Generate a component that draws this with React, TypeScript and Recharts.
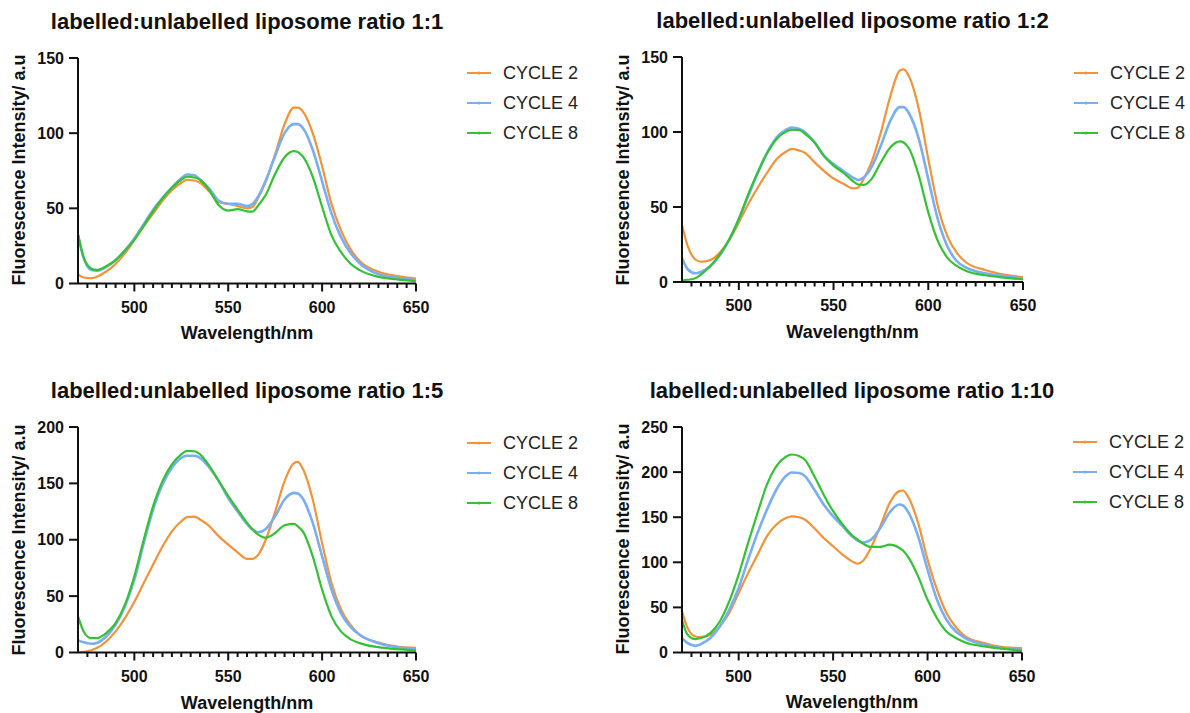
import React from "react";
import { LineChart, Line, XAxis, YAxis } from "recharts";

// ==================== DATA ====================

const WAVELENGTHS = [
  470, 473, 477, 480, 485, 490, 495, 500, 505, 510, 515, 520, 525, 528, 532,
  535, 540, 545, 550, 555, 560, 563, 566, 570, 575, 580, 585, 587, 590, 595,
  600, 605, 610, 615, 620, 630, 640, 650,
];

const SERIES_NAMES = ["CYCLE 2", "CYCLE 4", "CYCLE 8"];
const SERIES_COLORS = ["#F39237", "#79AEF2", "#33C233"];

// ratio 1:1
const R1_C2 = [6, 4, 3.5, 4.5, 8, 13, 20, 29, 38, 46.5, 55, 62, 67, 69, 68.5, 67, 61, 54, 53, 51.5, 50, 51, 57, 68, 86, 106, 117, 117, 114, 100, 78, 53, 35.5, 23, 15, 7.8, 5, 3.3];
const R1_C4 = [32, 17, 9, 8.5, 11, 15.5, 22, 30, 39.5, 49, 57, 64, 70, 72.5, 72, 69, 63, 55, 53, 53, 51.5, 53, 58, 68.5, 85, 100, 106, 106, 103, 89, 68, 46.5, 31, 20.5, 13.5, 6.2, 3.8, 2.2];
const R1_C8 = [33, 17.5, 10, 9, 11.5, 15.5, 22, 29, 38.5, 48, 56.5, 63.5, 69, 71, 70.5, 69, 62, 52, 48.5, 49.5, 48, 47.8, 52, 59, 73, 84, 88, 87.5, 84, 71, 51, 32, 21, 13.3, 8.9, 4.4, 2.7, 1.5];

// ratio 1:2
const R2_C2 = [38, 24, 15, 13.5, 14.7, 19.6, 28, 39.7, 52, 63, 73, 82, 87, 88.7, 87.6, 86, 79.8, 74, 69, 65.7, 62.4, 63, 69, 79.8, 99.8, 124, 141, 141.7, 136.6, 115.4, 82, 50.8, 30.8, 19.6, 13, 8, 5, 3.3];
const R2_C4 = [16, 8.5, 5.8, 6.7, 10.7, 17.8, 28.5, 42, 57.5, 73, 86.5, 96.5, 101.6, 103, 102, 99.8, 93, 84, 78.7, 74.2, 69.8, 68, 69.8, 76.4, 91, 107.6, 116.6, 116.6, 112, 95.4, 68.6, 42, 24, 14, 9.6, 5.8, 4, 2.2];
const R2_C8 = [1, 1.5, 2.5, 5, 10.7, 18.5, 28.5, 42, 58.6, 73, 86, 95.4, 100.3, 101.5, 101.3, 98.7, 93, 84, 77.6, 73, 67.5, 65, 64.7, 68.6, 79.8, 89.8, 93.8, 93, 88.7, 70.9, 46.4, 27.4, 16.3, 10.7, 7.4, 4.5, 2.9, 1.8];

// ratio 1:5
const R5_C2 = [0, 0.5, 2, 3.9, 9.8, 18.7, 30.5, 45, 61.6, 78, 94, 107.5, 116.4, 120, 120.5, 118, 112, 103, 95.7, 88.9, 83, 83, 86.8, 100, 125, 152, 168, 169, 162, 135.7, 97, 61.6, 38.5, 24.6, 15.7, 8.9, 5.3, 4.1];
const R5_C4 = [10.7, 9, 7.8, 8.5, 14.2, 24.6, 41, 64.6, 97, 126.8, 149, 163.9, 172.7, 174.5, 174.5, 172.7, 163.9, 152, 137, 125, 114, 109, 106.7, 109.6, 121, 135.7, 141.6, 141, 135.7, 115, 85.3, 55.7, 35, 23, 15.7, 8.3, 4.7, 3];
const R5_C8 = [32, 18.7, 12.7, 12.7, 17.2, 26, 42.4, 67.6, 100, 129.8, 152, 166.8, 175.7, 178.8, 178.5, 175.7, 165.3, 152, 138.7, 126.8, 115, 109, 104.6, 101.8, 106, 112.9, 114, 112, 106.7, 85.3, 55.7, 32, 18.7, 11.9, 8.3, 4.7, 3, 1.8];

// ratio 1:10
const R10_C2 = [45.6, 27, 17.8, 17, 19.6, 28.9, 43.7, 66, 88, 108.5, 129, 141.9, 149, 151, 150, 147.4, 138, 127, 117.8, 108.5, 101, 98.5, 102, 116, 140, 166, 178.9, 179.6, 171.5, 143.7, 103, 69.6, 43.7, 28, 17.8, 10.4, 5.9, 4.8];
const R10_C4 = [16, 10.4, 7.4, 9.3, 16, 28.9, 47.4, 71.5, 103, 132.6, 158.5, 180.7, 195.6, 199.5, 199, 195.6, 180.7, 164, 151, 140, 128.9, 124, 122, 125, 138, 155.5, 164, 163, 154.8, 128.9, 91.8, 58.5, 36.3, 23.3, 16, 8.5, 4.8, 3];
const R10_C8 = [36, 19.6, 14.8, 16, 21.5, 34.4, 56.7, 86.3, 121.5, 154.8, 186.3, 206.7, 217, 219.5, 217.8, 214, 195.6, 175, 156.7, 141.9, 130, 125, 120.5, 117, 117, 119.5, 116, 113, 104.8, 84.4, 58.5, 38, 23.3, 16, 11, 6.7, 4, 2.2];

const X_MAJOR = [500, 550, 600, 650];
const X_TICKS = [
  475, 480, 485, 490, 495, 500, 505, 510, 515, 520, 525, 530, 535, 540, 545,
  550, 555, 560, 565, 570, 575, 580, 585, 590, 595, 600, 605, 610, 615, 620,
  625, 630, 635, 640, 645, 650,
];
const Y_TICKS_150 = [0, 50, 100, 150];
const Y_TICKS_200 = [0, 50, 100, 150, 200];
const Y_TICKS_250 = [0, 50, 100, 150, 200, 250];

const FONT = '"Liberation Sans", Arial, Helvetica, sans-serif';
const INK = "#111";

// ==================== X TICK ====================

const renderXTick = (props: any) => {
  const { x, y, payload } = props;
  const major = X_MAJOR.includes(payload.value);
  return (
    <g>
      <line x1={x} x2={x} y1={y} y2={y + (major ? 8 : 4.5)} stroke={INK} strokeWidth={2} />
      {major && (
        <text
          x={x}
          y={y + 29}
          textAnchor="middle"
          fill={INK}
          fontSize={16}
          fontWeight={700}
          fontFamily={FONT}
        >
          {payload.value}
        </text>
      )}
    </g>
  );
};

// ==================== PANEL ====================

interface PanelProps {
  title: string;
  values: number[][];
  yTicks: number[];
  plotLeft: number;
  plotTop: number;
  plotW: number;
  plotH: number;
}

const Panel = ({ title, values, yTicks, plotLeft, plotTop, plotW, plotH }: PanelProps) => {
  const rows = WAVELENGTHS.map((wl, i) => ({
    wl,
    c2: values[0][i],
    c4: values[1][i],
    c8: values[2][i],
  }));
  const keys = ["c2", "c4", "c8"];
  const ml = 70;
  const mt = 20;
  const mr = 15;
  const xh = 45;
  const cx = plotLeft + plotW / 2;

  return (
    <>
      <div
        style={{
          position: "absolute",
          left: cx - 300,
          width: 600,
          top: plotTop - 50,
          textAlign: "center",
          fontSize: 22,
          fontWeight: 700,
          color: INK,
          lineHeight: "28px",
          whiteSpace: "nowrap",
        }}
      >
        {title}
      </div>

      <div style={{ position: "absolute", left: plotLeft - ml, top: plotTop - mt }}>
        <LineChart
          width={plotW + ml + mr}
          height={plotH + mt + xh}
          data={rows}
          margin={{ top: mt, right: mr, bottom: 0, left: 10 }}
        >
          <XAxis
            dataKey="wl"
            type="number"
            domain={[470, 650]}
            ticks={X_TICKS}
            interval={0}
            tickSize={0}
            tickMargin={0}
            tickLine={false}
            tick={renderXTick}
            axisLine={{ stroke: INK, strokeWidth: 2 }}
            height={xh}
            allowDataOverflow
          />
          <YAxis
            type="number"
            domain={[0, yTicks[yTicks.length - 1]]}
            ticks={yTicks}
            interval={0}
            width={60}
            tickSize={9}
            tickMargin={5}
            tickLine={{ stroke: INK, strokeWidth: 2 }}
            axisLine={{ stroke: INK, strokeWidth: 2 }}
            tick={{ fill: INK, fontSize: 16, fontWeight: 700, fontFamily: FONT }}
            allowDataOverflow
          />
          {keys.map((k, i) => (
            <Line
              key={k}
              dataKey={k}
              name={SERIES_NAMES[i]}
              type="monotone"
              stroke={SERIES_COLORS[i]}
              strokeWidth={i === 1 ? 2.6 : 2.2}
              dot={false}
              isAnimationActive={false}
            />
          ))}
        </LineChart>
      </div>

      {/* y axis title */}
      <div
        style={{
          position: "absolute",
          left: plotLeft - 59 - 150,
          top: plotTop + plotH / 2 - 12,
          width: 300,
          height: 24,
          lineHeight: "24px",
          textAlign: "center",
          transform: "rotate(-90deg)",
          fontSize: 18,
          fontWeight: 700,
          color: INK,
          whiteSpace: "nowrap",
        }}
      >
        Fluorescence Intensity/ a.u
      </div>

      {/* x axis title */}
      <div
        style={{
          position: "absolute",
          left: cx - 150,
          width: 300,
          top: plotTop + plotH + 38,
          lineHeight: "24px",
          textAlign: "center",
          fontSize: 18,
          fontWeight: 700,
          color: INK,
        }}
      >
        Wavelength/nm
      </div>

      {/* legend */}
      {SERIES_NAMES.map((name, i) => (
        <div
          key={name}
          style={{
            position: "absolute",
            left: plotLeft + plotW + 51,
            top: plotTop + 15.5 + 30 * i - 12,
            height: 24,
            display: "flex",
            alignItems: "center",
            whiteSpace: "nowrap",
          }}
        >
          <svg width={24} height={24} style={{ display: "block" }}>
            <line x1={0} x2={24} y1={12} y2={12} stroke={SERIES_COLORS[i]} strokeWidth={2} />
            <circle cx={12} cy={12} r={1.6} fill={SERIES_COLORS[i]} />
          </svg>
          <span style={{ marginLeft: 12, fontSize: 18, color: "#222", lineHeight: "24px" }}>
            {name}
          </span>
        </div>
      ))}
    </>
  );
};

// ==================== APP ====================

export default function App() {
  return (
    <div
      style={{
        position: "absolute",
        left: 0,
        top: 0,
        width: 1190,
        height: 713,
        background: "#fff",
        fontFamily: FONT,
        overflow: "hidden",
      }}
    >
      <Panel
        title="labelled:unlabelled liposome ratio 1:1"
        values={[R1_C2, R1_C4, R1_C8]}
        yTicks={Y_TICKS_150}
        plotLeft={78}
        plotTop={57.5}
        plotW={338}
        plotH={225.5}
      />
      <Panel
        title="labelled:unlabelled liposome ratio 1:2"
        values={[R2_C2, R2_C4, R2_C8]}
        yTicks={Y_TICKS_150}
        plotLeft={682}
        plotTop={57}
        plotW={341}
        plotH={225}
      />
      <Panel
        title="labelled:unlabelled liposome ratio 1:5"
        values={[R5_C2, R5_C4, R5_C8]}
        yTicks={Y_TICKS_200}
        plotLeft={78}
        plotTop={427}
        plotW={338}
        plotH={225.5}
      />
      <Panel
        title="labelled:unlabelled liposome ratio 1:10"
        values={[R10_C2, R10_C4, R10_C8]}
        yTicks={Y_TICKS_250}
        plotLeft={682}
        plotTop={426.5}
        plotW={340}
        plotH={225.5}
      />
    </div>
  );
}
